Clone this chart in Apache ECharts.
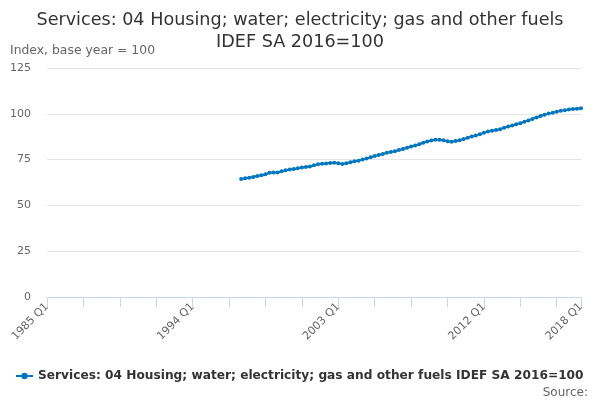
<!DOCTYPE html>
<html>
<head>
<meta charset="utf-8">
<script src="https://cdn.jsdelivr.net/npm/echarts@6/dist/echarts.min.js"></script>
<style>
  html, body { margin: 0; padding: 0; background: #fff; }
  #chart { width: 600px; height: 400px; }
</style>
</head>
<body>
<div id="chart"></div>
<script>
// quarters 1985 Q1 .. 2018 Q1
const quarters = [];
for (let y = 1985; y <= 2018; y++) {
  for (let q = 1; q <= 4; q++) {
    if (y === 2018 && q > 1) break;
    quarters.push(y + " Q" + q);
  }
}

// index values from 1997 Q1 to 2018 Q1 (earlier quarters have no data)
const firstQuarter = "1997 Q1";
const indexValues = [
  64.4, 64.8, 65.1, 65.5,
  66.1, 66.5, 67.0, 67.8,
  67.9, 68.0, 68.6, 69.2,
  69.6, 69.9, 70.3, 70.7,
  71.0, 71.2, 71.9, 72.4,
  72.8, 72.9, 73.1, 73.3,
  73.0, 72.6, 73.0, 73.6,
  74.1, 74.4, 75.0, 75.6,
  76.3, 77.0, 77.5, 78.1,
  78.7, 79.2, 79.6, 80.2,
  80.8, 81.5, 82.1, 82.7,
  83.4, 84.2, 84.9, 85.4,
  85.8, 85.9, 85.6, 85.0,
  84.8, 85.1, 85.6, 86.2,
  86.9, 87.6, 88.2, 88.9,
  89.6, 90.3, 90.8, 91.2,
  91.6, 92.4, 93.0, 93.6,
  94.3, 94.9, 95.6, 96.4,
  97.2, 98.0, 98.8, 99.5,
  100.1, 100.6, 101.1, 101.6,
  102.0, 102.3, 102.6, 102.8,
  103.0
];

const yTicks = { min: 0, max: 125, step: 25 };
const seriesName = "Services: 04 Housing; water; electricity; gas and other fuels IDEF SA 2016=100";

const start = quarters.indexOf(firstQuarter);
const seriesData = quarters.map((q, i) =>
  i < start ? null : indexValues[i - start]
);
const last = quarters.length - 1;

const chart = echarts.init(document.getElementById("chart"));
chart.setOption({
  animation: false,
  textStyle: { fontFamily: "DejaVu Sans" },
  title: [
    {
      text: "Services: 04 Housing; water; electricity; gas and other fuels\nIDEF SA 2016=100",
      left: "center",
      top: 4,
      textStyle: { fontSize: 17.6, fontWeight: "normal", color: "#333", lineHeight: 22, align: "center" }
    },
    {
      text: "Index, base year = 100",
      left: 5,
      top: 40,
      textStyle: { fontSize: 12.4, fontWeight: "normal", color: "#666" }
    },
    {
      text: "Source:",
      right: 7,
      top: 382,
      textStyle: { fontSize: 12, fontWeight: "normal", color: "#666" }
    }
  ],
  legend: {
    left: 10,
    top: 365,
    itemWidth: 17,
    itemHeight: 8,
    itemGap: 5,
    textStyle: { fontSize: 12.2, fontWeight: "bold", color: "#333" }
  },
  grid: { left: 47, right: 19, top: 68, bottom: 103 },
  xAxis: {
    type: "category",
    data: quarters,
    boundaryGap: false,
    axisLine: { lineStyle: { color: "#ccd6eb" } },
    axisTick: {
      length: 10,
      lineStyle: { color: "#ccd6eb" },
      interval: (i) => i % 9 === 0 || i === last
    },
    axisLabel: {
      rotate: 45,
      color: "#666",
      fontSize: 11,
      interval: (i) => i % 36 === 0 || i === last
    }
  },
  yAxis: {
    type: "value",
    min: yTicks.min,
    max: yTicks.max,
    interval: yTicks.step,
    axisLine: { show: false },
    axisTick: { show: false },
    axisLabel: { color: "#666", fontSize: 11, margin: 16 },
    splitLine: { lineStyle: { color: "#e6e6e6" } }
  },
  series: [
    {
      name: seriesName,
      type: "line",
      data: seriesData,
      connectNulls: false,
      symbol: "circle",
      symbolSize: 4,
      showSymbol: true,
      showAllSymbol: true,
      itemStyle: { color: "#0076c0" },
      lineStyle: { width: 2, color: "#0076c0" }
    }
  ]
});
</script>
</body>
</html>
